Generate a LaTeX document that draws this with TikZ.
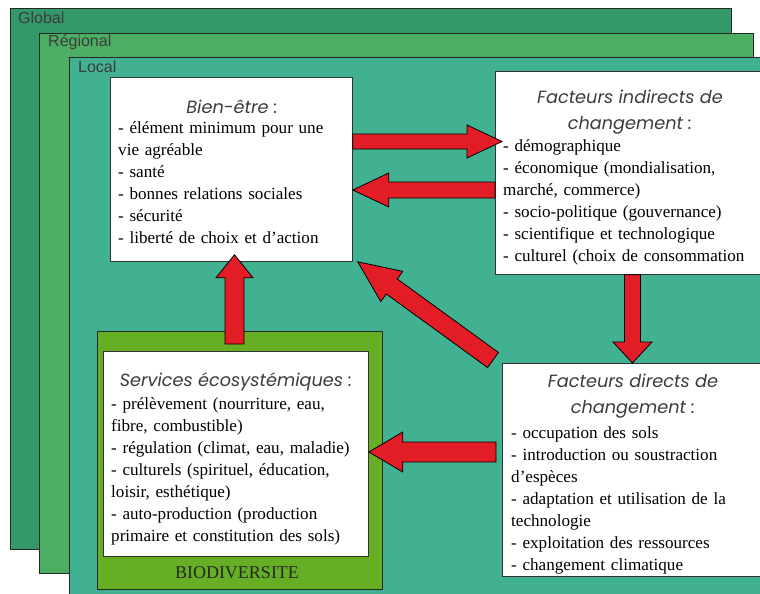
\documentclass[tikz,border=0pt]{standalone}
\usepackage{fontspec}
\setmainfont{Liberation Serif}
\setsansfont{Liberation Sans}
\newfontfamily\titlefont{Poppins}
\usetikzlibrary{calc}
\definecolor{globalgreen}{RGB}{52,153,105}
\definecolor{regionalgreen}{RGB}{75,174,98}
\definecolor{localgreen}{RGB}{66,177,145}
\definecolor{biogreen}{RGB}{102,174,35}
\definecolor{arrowred}{RGB}{226,29,37}
\definecolor{labelgray}{RGB}{60,60,60}
% block arrow: start, tip, half shaft, half head, head length
\newcommand{\bigarrow}[5]{%
\coordinate (hb) at ($(#2)!#5!(#1)$);
\draw[redarrow] ($(#1)!#3!90:(#2)$)--($(hb)!#3!90:(#2)$)--($(hb)!#4!90:(#2)$)--(#2)
 --($(hb)!#4!-90:(#2)$)--($(hb)!#3!-90:(#2)$)--($(#1)!#3!-90:(#2)$)--cycle;}
\begin{document}
\begin{tikzpicture}[x=1pt, y=-1pt,
 zone/.style={draw=black!85, line width=.8pt, anchor=north west, inner sep=0pt},
 box/.style={draw=black!80, fill=white, line width=.8pt, anchor=north west, inner sep=0pt},
 heading/.style={font=\titlefont\itshape\fontsize{17.7}{26}\selectfont, text=labelgray, align=center, anchor=base, inner sep=0pt},
 items/.style={font=\fontsize{17.1}{22}\selectfont, text width=260pt, align=left, anchor=base west, inner sep=0pt},
 scalelabel/.style={font=\sffamily\fontsize{16}{16}\selectfont, text=labelgray, anchor=base west, inner sep=0pt},
 redarrow/.style={draw=black, fill=arrowred, line width=.8pt, line join=miter}]
\clip (0,0) rectangle (760,594);
\useasboundingbox (0,0) rectangle (760,594);
\node[zone, fill=globalgreen, minimum width=721pt, minimum height=541pt] (global) at (10,8) {};
\node[zone, fill=regionalgreen, minimum width=714pt, minimum height=540pt] (regional) at (39,33) {};
\node[zone, fill=localgreen, minimum width=700pt, minimum height=545pt] (local) at (69,57) {};
\node[scalelabel] (globaltxt) at (18,24) {Global};
\node[scalelabel] (regionaltxt) at (48,47) {Régional};
\node[scalelabel] (localtxt) at (78,72) {Local};
\node[box, minimum width=242pt, minimum height=184pt] (bien) at (110,77) {};
\node[box, minimum width=268pt, minimum height=203pt] (indir) at (495,71) {};
\node[box, minimum width=261pt, minimum height=213pt] (direct) at (502,363) {};
\node[zone, fill=biogreen, minimum width=285pt, minimum height=258pt] (bio) at (97,331) {};
\node[box, minimum width=265pt, minimum height=205pt] (serv) at (103,351) {};
\node[heading] (bientitle) at (232,113) {Bien-être :};
\node[items] (bienlist) at (118,133) {- élément minimum pour une\\vie agréable\\- santé\\- bonnes relations sociales\\- sécurité\\- liberté de choix et d’action};
\node[heading] (indirtitle) at (630,129) {Facteurs indirects de\\changement :};
\node[items] (indirlist) at (503,151) {- démographique\\- économique (mondialisation,\\marché, commerce)\\- socio-politique (gouvernance)\\- scientifique et technologique\\- culturel (choix de consommation};
\node[heading] (directtitle) at (633,413) {Facteurs directs de\\changement :};
\node[items] (directlist) at (511,438) {- occupation des sols\\- introduction ou soustraction\\d’espèces\\- adaptation et utilisation de la\\technologie\\- exploitation des ressources\\- changement climatique};
\node[heading] (servtitle) at (236,386) {Services écosystémiques :};
\node[items] (servlist) at (111,409) {- prélèvement (nourriture, eau,\\fibre, combustible)\\- régulation (climat, eau, maladie)\\- culturels (spirituel, éducation,\\loisir, esthétique)\\- auto-production (production\\primaire et constitution des sols)};
\node[font=\fontsize{18}{18}\selectfont, text=black!85, anchor=base, inner sep=0pt] (biotxt) at (237,578) {BIODIVERSITE};
\coordinate (a1s) at ($(bien.north east)+(0,64.5)$);
\coordinate (a1t) at ($(indir.north west)+(7,70.5)$);
\coordinate (a2s) at ($(indir.north west)+(0,119)$);
\coordinate (a2t) at ($(bien.north east)+(0,113)$);
\coordinate (a3s) at ($(bio.north west)+(137.5,13)$);
\coordinate (a3t) at ($(bien.south west)+(124.5,-7)$);
\coordinate (a4s) at ($(direct.north west)+(-9,-3)$);
\coordinate (a4t) at ($(bien.south east)+(5,0)$);
\coordinate (a5s) at ($(indir.south west)+(137.5,0)$);
\coordinate (a5t) at ($(direct.north west)+(130.5,0)$);
\coordinate (a6s) at ($(direct.north west)+(-6,89)$);
\coordinate (a6t) at ($(serv.north east)+(0,101)$);
\bigarrow{a1s}{a1t}{7.5pt}{16.5pt}{35pt}
\bigarrow{a2s}{a2t}{8pt}{17pt}{36pt}
\bigarrow{a3s}{a3t}{9.5pt}{18.5pt}{23pt}
\bigarrow{a4s}{a4t}{9.3pt}{18.7pt}{42pt}
\bigarrow{a5s}{a5t}{8pt}{19.5pt}{21pt}
\bigarrow{a6s}{a6t}{10pt}{20pt}{34pt}
\end{tikzpicture}
\end{document}
